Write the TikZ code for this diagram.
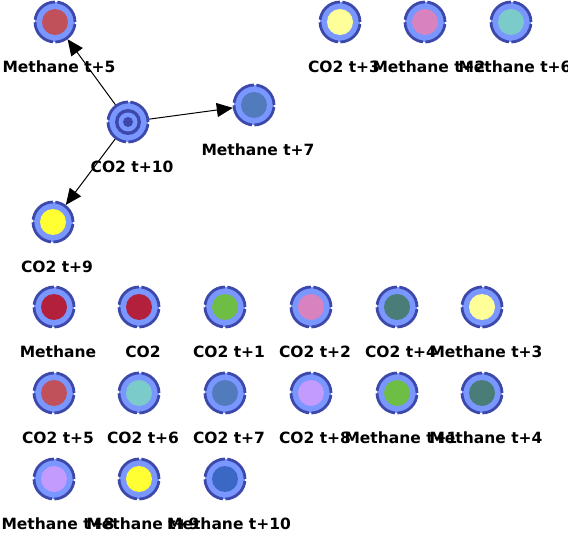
\documentclass[tikz,border=0pt]{standalone}
\usepackage{fontspec}
\setmainfont{DejaVu Sans}
\usetikzlibrary{arrows.meta}
\tikzset{>={Triangle[length=16pt,width=14pt]}}
\definecolor{ringfill}{RGB}{122,150,255}
\definecolor{ringedge}{RGB}{60,72,170}
\definecolor{cred}{RGB}{192,80,90}
\definecolor{cyellt}{RGB}{255,255,153}
\definecolor{cpink}{RGB}{216,131,192}
\definecolor{ctealt}{RGB}{124,203,203}
\definecolor{csteel}{RGB}{81,123,189}
\definecolor{cyel}{RGB}{255,255,51}
\definecolor{ccrim}{RGB}{178,32,60}
\definecolor{cgreen}{RGB}{110,190,70}
\definecolor{ctealdk}{RGB}{74,125,120}
\definecolor{clav}{RGB}{195,155,255}
\definecolor{croyal}{RGB}{59,103,197}
\tikzset{
  lbl/.style={font=\fontsize{15.5}{18}\selectfont\bfseries, inner sep=0pt,
    text height=11pt, text depth=3pt, label distance=18pt, xshift=4pt},
  ring/.style={circle, minimum size=40pt, inner sep=0pt, fill=ringfill,
    draw=ringedge, line width=2.8pt, dash pattern=on 29pt off 2.5pt},
  mol/.style 2 args={ring, label={[lbl]below:#1},
    path picture={\fill[#2] (path picture bounding box.center) circle (13pt);}},
  target/.style={ring, label={[lbl]below:#1},
    path picture={
      \fill[ringedge] (path picture bounding box.center) circle (13pt);
      \fill[ringfill] (path picture bounding box.center) circle (9.5pt);
      \fill[ringedge] (path picture bounding box.center) circle (5pt);}},
  link/.style={->, line width=1pt},
}

\begin{document}
\begin{tikzpicture}[x=1pt, y=-1pt]
  \useasboundingbox (0,0) rectangle (568,537);
  % top group
  \node[mol={Methane t+5}{cred}]  (m5) at (55,22) {};
  \node[mol={CO2 t+3}{cyellt}]    (c3) at (340,22) {};
  \node[mol={Methane t+2}{cpink}] (m2) at (425,22) {};
  \node[mol={Methane t+6}{ctealt}] (m6) at (511,22) {};
  \node[target={CO2 t+10}]        (c10) at (128,122) {};
  \node[mol={Methane t+7}{csteel}] (m7) at (254,105) {};
  \node[mol={CO2 t+9}{cyel}]      (c9) at (53,222) {};
  % links
  \draw[link] (c10) -- (m5);
  \draw[link] (c10) -- (m7);
  \draw[link] (c10) -- (c9);
  % first row
  \node[mol={Methane}{ccrim}]     (m0) at (54,307) {};
  \node[mol={CO2}{ccrim}]         (c0) at (139,307) {};
  \node[mol={CO2 t+1}{cgreen}]    (c1) at (225,307) {};
  \node[mol={CO2 t+2}{cpink}]     (c2) at (311,307) {};
  \node[mol={CO2 t+4}{ctealdk}]   (c4) at (397,307) {};
  \node[mol={Methane t+3}{cyellt}] (m3) at (482,307) {};
  % second row
  \node[mol={CO2 t+5}{cred}]      (c5) at (54,393) {};
  \node[mol={CO2 t+6}{ctealt}]    (c6) at (139,393) {};
  \node[mol={CO2 t+7}{csteel}]    (c7) at (225,393) {};
  \node[mol={CO2 t+8}{clav}]      (c8) at (311,393) {};
  \node[mol={Methane t+1}{cgreen}] (m1) at (397,393) {};
  \node[mol={Methane t+4}{ctealdk}] (m4) at (482,393) {};
  % third row
  \node[mol={Methane t+8}{clav}]  (m8) at (54,479) {};
  \node[mol={Methane t+9}{cyel}]  (m9) at (139,479) {};
  \node[mol={Methane t+10}{croyal}] (m10) at (225,479) {};
\end{tikzpicture}
\end{document}
